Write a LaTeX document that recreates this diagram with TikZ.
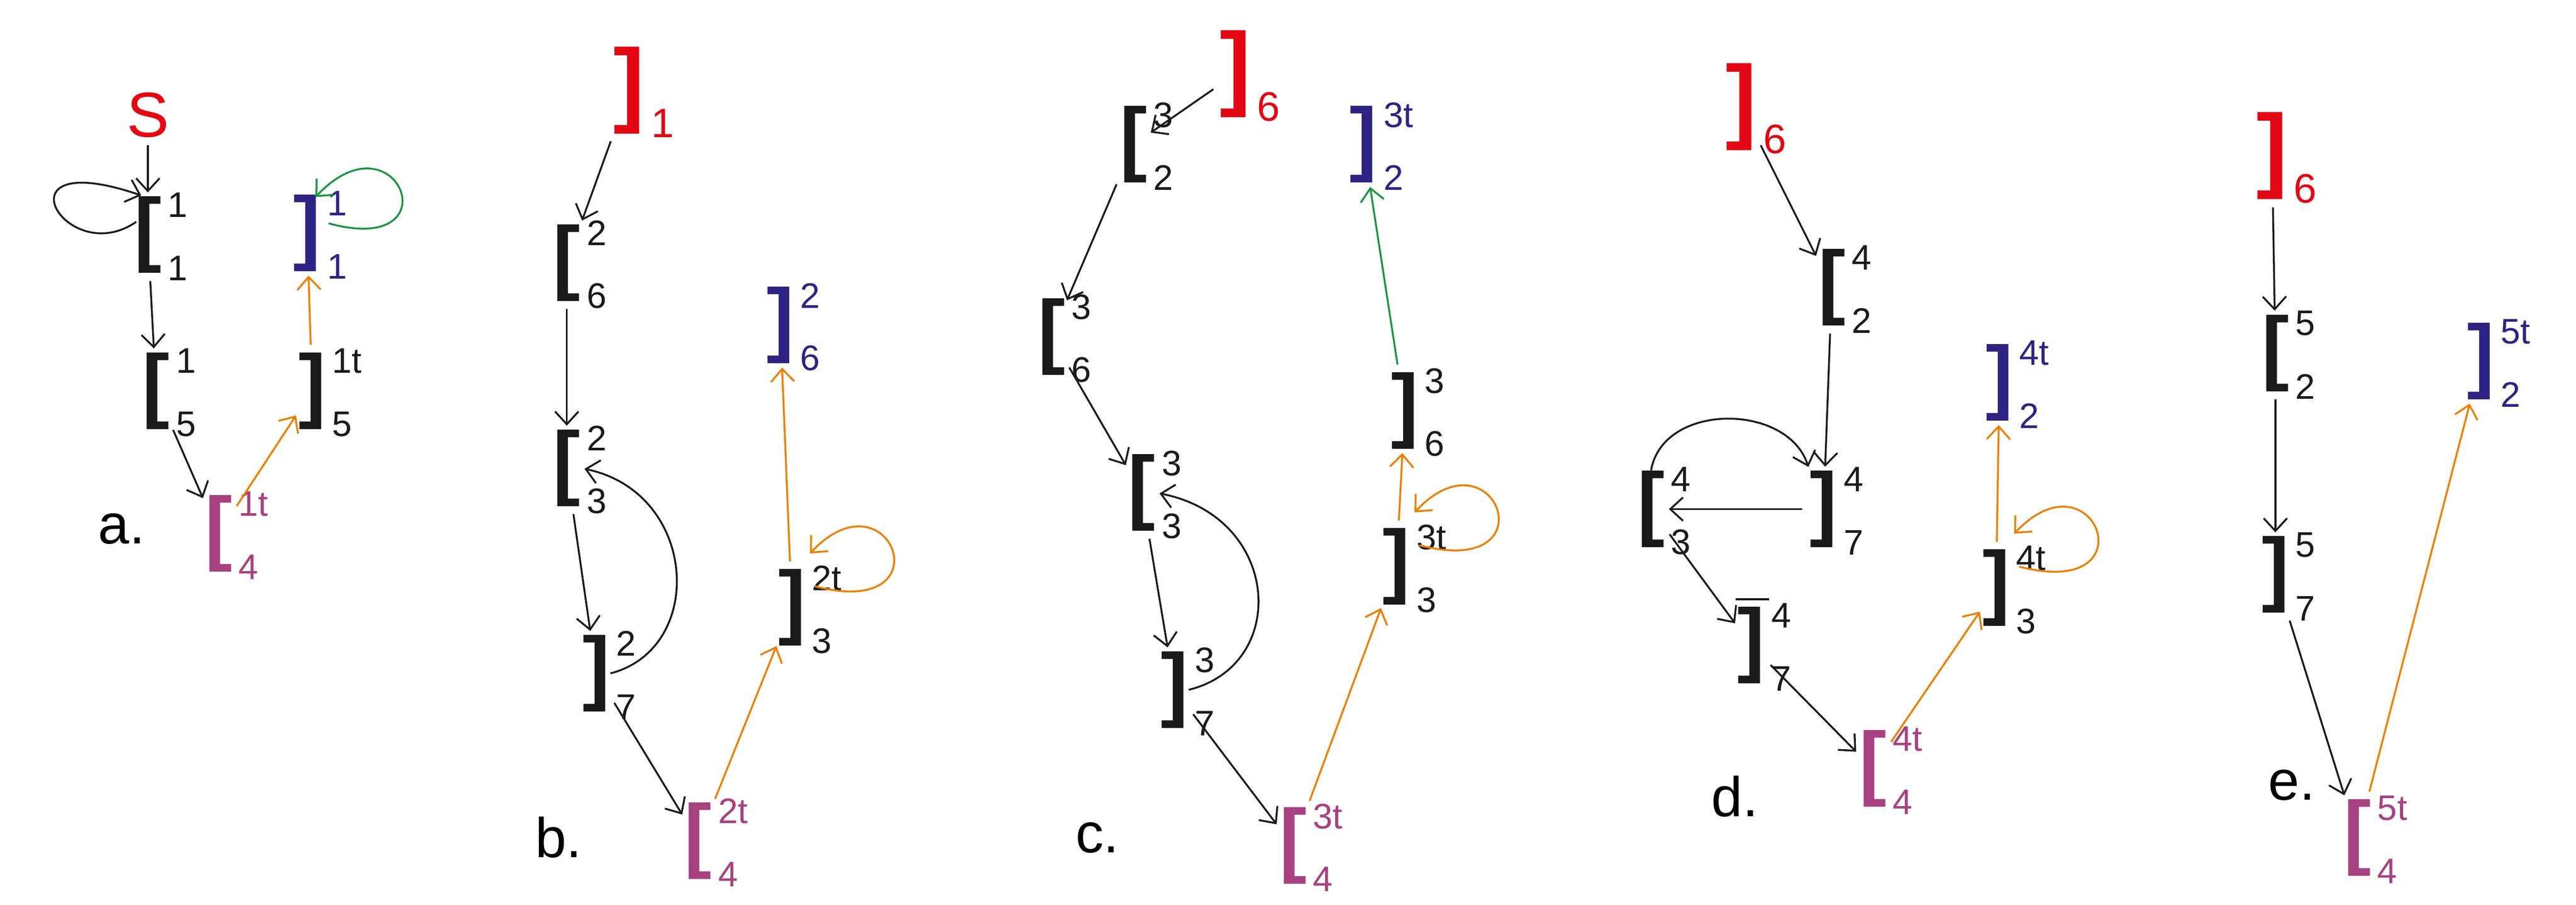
\documentclass[tikz,border=0pt]{standalone}
\usepackage{fontspec}
\setmainfont{Liberation Sans}
\usetikzlibrary{arrows.meta,calc}
\definecolor{cred}{HTML}{E30613}
\definecolor{cblue}{HTML}{2E2383}
\definecolor{cmag}{HTML}{A8417F}
\definecolor{cora}{HTML}{EE7F00}
\definecolor{cgrn}{HTML}{1A9641}
\definecolor{cblk}{HTML}{1A1A1A}
\tikzset{
  brk/.style={inner sep=0pt,font=\fontsize{44}{44}\selectfont\bfseries},
  bigbrk/.style={inner sep=0pt,font=\fontsize{50}{50}\selectfont\bfseries},
  idx/.style={inner sep=0pt,font=\fontsize{19}{19}\selectfont},
  bigidx/.style={inner sep=0pt,font=\fontsize{22}{22}\selectfont},
  lab/.style={inner sep=0pt,font=\fontsize{30}{30}\selectfont},
  arr/.style={-{Straight Barb[length=2.4mm,width=4.4mm]},line width=1pt,shorten >=2pt,shorten <=4pt},
  karr/.style={arr,cblk},
  oarr/.style={arr,cora},
  garr/.style={arr,cgrn},
}
\newcommand\BR[6]{%
  \node[brk,text=#6] (#1) at (#2) {#3};
  \node[idx,text=#6,anchor=north west] (#1sup) at ([xshift=3pt,yshift=2pt]#1.north east) {#4};
  \node[idx,text=#6,anchor=south west] (#1sub) at ([xshift=3pt,yshift=-4pt]#1.south east) {#5};}
\newcommand\RB[3]{%
  \node[bigbrk,text=cred] (#1) at (#2) {]};
  \node[bigidx,text=cred,anchor=south west] (#1sub) at ([xshift=3pt,yshift=-2pt]#1.south east) {#3};}
\newcommand\LOOPR[2]{%
  \draw[#2,shorten <=0pt,shorten >=0pt] ($(#1)+(14,-13)$) .. controls ($(#1)+(95,8)$) and ($(#1)+(60,-85)$) .. ($(#1)+(11,-33)$);}
\begin{document}
\begin{tikzpicture}[x=0.0309cm,y=-0.0309cm]
\useasboundingbox (0,0) rectangle (1568,551);
% ---------- a
\node[lab,text=cred,font=\fontsize{34}{34}\selectfont] (S) at (90,70) {S};
\BR{a1}{90,143}{[}{1}{1}{cblk}
\BR{a2}{187,142}{]}{1}{1}{cblue}
\BR{a3}{95,238}{[}{1}{5}{cblk}
\BR{a4}{190,238}{]}{1t}{5}{cblk}
\BR{a5}{133,325}{[}{1t}{4}{cmag}
\node[lab] (la) at (74,322) {a.};
\draw[karr] (S) -- (a1);
\draw[karr] (a1) -- (a3);
\draw[karr] (a3) -- (a5);
\draw[oarr] (a5) -- (a4);
\draw[oarr] (a4) -- (a2);
\draw[karr,shorten <=0pt,shorten >=0pt] ($(a1)+(-7,-8)$) .. controls ($(a1)+(-50,22)$) and ($(a1)+(-95,-55)$) .. ($(a1)+(-4,-24)$);
\draw[garr,shorten <=0pt,shorten >=0pt] ($(a2)+(13,-6)$) .. controls ($(a2)+(90,15)$) and ($(a2)+(55,-75)$) .. ($(a2)+(5,-22)$);
% ---------- b
\RB{b0}{383,55}{1}
\BR{b1}{345,160}{[}{2}{6}{cblk}
\BR{b2}{345,285}{[}{2}{3}{cblk}
\BR{b3}{363,410}{]}{2}{7}{cblk}
\BR{b4}{425,512}{[}{2t}{4}{cmag}
\BR{b5}{482,370}{]}{2t}{3}{cblk}
\BR{b6}{475,198}{]}{2}{6}{cblue}
\node[lab] (lb) at (340,510) {b.};
\draw[karr] (b0) -- (b1);
\draw[karr] (b1) -- (b2);
\draw[karr] (b2) -- (b3);
\draw[karr,shorten <=0pt] (b3.east) .. controls (430,395) and (425,300) .. (b2.east);
\draw[karr] (b3) -- (b4);
\draw[oarr] (b4) -- (b5);
\draw[oarr] (b5) -- (b6);
\LOOPR{b5}{oarr}
% ---------- c
\RB{c0}{752,45}{6}
\BR{c1}{690,88}{[}{3}{2}{cblk}
\BR{c2}{830,88}{]}{3t}{2}{cblue}
\BR{c3}{640,205}{[}{3}{6}{cblk}
\BR{c4}{695,300}{[}{3}{3}{cblk}
\BR{c5}{715,420}{]}{3}{7}{cblk}
\BR{c6}{787,515}{[}{3t}{4}{cmag}
\BR{c7}{850,345}{]}{3t}{3}{cblk}
\BR{c8}{855,250}{]}{3}{6}{cblk}
\node[lab] (lc) at (668,510) {c.};
\draw[karr] (c0) -- (c1);
\draw[karr] (c1) -- (c3);
\draw[karr] (c3) -- (c4);
\draw[karr] (c4) -- (c5);
\draw[karr,shorten <=0pt] (c5.east) .. controls (785,405) and (780,315) .. (c4.east);
\draw[karr] (c5) -- (c6);
\draw[oarr] (c6) -- (c7);
\draw[oarr] (c7) -- (c8);
\draw[garr] (c8) -- (c2);
\LOOPR{c7}{oarr}
% ---------- d
\RB{d0}{1060,65}{6}
\BR{d1}{1115,175}{[}{4}{2}{cblk}
\BR{d2}{1217,233}{]}{4t}{2}{cblue}
\BR{d3}{1005,310}{[}{4}{3}{cblk}
\BR{d4}{1110,310}{]}{4}{7}{cblk}
\BR{d5}{1066,393}{]}{4}{7}{cblk}
\BR{d6}{1140,468}{[}{4t}{4}{cmag}
\BR{d7}{1215,358}{]}{4t}{3}{cblk}
\node[lab] (ld) at (1056,485) {d.};
\draw[line width=1.2pt,cblk] ([yshift=4pt,xshift=-1pt]d5.north west) -- ([yshift=4pt,xshift=2pt]d5.north east);
\draw[karr] (d0) -- (d1);
\draw[karr] (d1) -- (d4);
\draw[karr,shorten <=0pt] (d3.north) .. controls (1012,245) and (1088,245) .. (d4.north west);
\draw[karr] (d4) -- (d3);
\draw[karr] (d3) -- (d5);
\draw[karr] (d5) -- (d6);
\draw[oarr] (d6) -- (d7);
\draw[oarr] (d7) -- (d2);
\LOOPR{d7}{oarr}
% ---------- e
\RB{e0}{1383,95}{6}
\BR{e1}{1385,215}{[}{5}{2}{cblk}
\BR{e2}{1385,350}{]}{5}{7}{cblk}
\BR{e3}{1435,510}{[}{5t}{4}{cmag}
\BR{e4}{1510,220}{]}{5t}{2}{cblue}
\node[lab] (le) at (1395,478) {e.};
\draw[karr] (e0) -- (e1);
\draw[karr] (e1) -- (e2);
\draw[karr] (e2) -- (e3);
\draw[oarr] (e3) -- (e4);
\end{tikzpicture}
\end{document}
